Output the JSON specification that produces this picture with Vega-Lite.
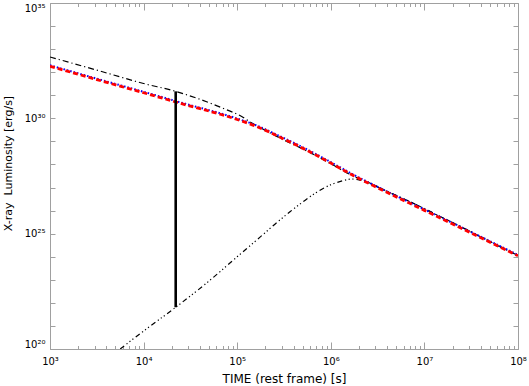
{
  "$schema": "https://vega.github.io/schema/vega-lite/v6.json",
  "width": 468,
  "height": 346,
  "autosize": {"type": "none"},
  "padding": {"left": 50, "top": 3, "right": 11, "bottom": 37},
  "background": "white",
  "config": {
    "view": {"stroke": "#a0a0a0", "strokeWidth": 1},
    "font": "Liberation Sans",
    "axis": {
      "domain": false,
      "grid": false,
      "tickColor": "#a0a0a0",
      "tickWidth": 1,
      "labelColor": "#000000",
      "labelFont": "DejaVu Sans",
      "labelFontSize": 10,
      "titleFont": "DejaVu Sans",
      "titleFontSize": 12,
      "titleFontWeight": "normal",
      "titleColor": "#000000"
    }
  },
  "datasets": {
    "d": [
      {"s": "red", "t": 1000, "L": 1.820e32},
      {"s": "red", "t": 3162, "L": 4.786e31},
      {"s": "red", "t": 10000, "L": 1.288e31},
      {"s": "red", "t": 31623, "L": 3.388e30},
      {"s": "red", "t": 63096, "L": 1.585e30},
      {"s": "red", "t": 100000, "L": 8.913e29},
      {"s": "red", "t": 158489, "L": 4.571e29},
      {"s": "red", "t": 316228, "L": 1.259e29},
      {"s": "red", "t": 630957, "L": 3.162e28},
      {"s": "red", "t": 1000000, "L": 1.148e28},
      {"s": "red", "t": 1778279, "L": 3.162e27},
      {"s": "red", "t": 3162278, "L": 9.772e26},
      {"s": "red", "t": 10000000, "L": 1.023e26},
      {"s": "red", "t": 31622777, "L": 1.072e25},
      {"s": "red", "t": 100000000, "L": 1.096e24},

      {"s": "blue", "t": 1000, "L": 1.995e32},
      {"s": "blue", "t": 3162, "L": 5.248e31},
      {"s": "blue", "t": 10000, "L": 1.413e31},
      {"s": "blue", "t": 31623, "L": 3.715e30},
      {"s": "blue", "t": 63096, "L": 1.738e30},
      {"s": "blue", "t": 100000, "L": 9.772e29},
      {"s": "blue", "t": 158489, "L": 5.012e29},
      {"s": "blue", "t": 316228, "L": 1.380e29},
      {"s": "blue", "t": 630957, "L": 3.467e28},
      {"s": "blue", "t": 1000000, "L": 1.259e28},
      {"s": "blue", "t": 1778279, "L": 3.467e27},
      {"s": "blue", "t": 3162278, "L": 1.072e27},
      {"s": "blue", "t": 10000000, "L": 1.122e26},
      {"s": "blue", "t": 31622777, "L": 1.175e25},
      {"s": "blue", "t": 100000000, "L": 1.202e24},

      {"s": "total", "t": 1000, "L": 4.571e32},
      {"s": "total", "t": 3162, "L": 1.230e32},
      {"s": "total", "t": 10000, "L": 3.236e31},
      {"s": "total", "t": 22029, "L": 1.479e31},
      {"s": "total", "t": 38371, "L": 7.079e30},
      {"s": "total", "t": 74131, "L": 2.512e30},
      {"s": "total", "t": 111686, "L": 1.202e30},
      {"s": "total", "t": 142889, "L": 6.310e29},
      {"s": "total", "t": 154882, "L": 5.248e29},
      {"s": "total", "t": 316228, "L": 1.148e29},
      {"s": "total", "t": 630957, "L": 2.951e28},
      {"s": "total", "t": 1000000, "L": 1.072e28},
      {"s": "total", "t": 1778279, "L": 3.020e27},
      {"s": "total", "t": 2238721, "L": 2.089e27},
      {"s": "total", "t": 4265795, "L": 6.026e26},
      {"s": "total", "t": 7079458, "L": 2.399e26},
      {"s": "total", "t": 13489629, "L": 6.607e25},
      {"s": "total", "t": 25118864, "L": 1.905e25},
      {"s": "total", "t": 50118723, "L": 4.571e24},
      {"s": "total", "t": 100000000, "L": 1.122e24},

      {"s": "comp", "t": 5623, "L": 1.0e20},
      {"s": "comp", "t": 10000, "L": 6.026e20},
      {"s": "comp", "t": 22029, "L": 6.457e21},
      {"s": "comp", "t": 50119, "L": 8.913e22},
      {"s": "comp", "t": 100000, "L": 1.0e24},
      {"s": "comp", "t": 175388, "L": 7.079e24},
      {"s": "comp", "t": 251189, "L": 2.512e25},
      {"s": "comp", "t": 366438, "L": 8.913e25},
      {"s": "comp", "t": 501187, "L": 2.344e26},
      {"s": "comp", "t": 707946, "L": 6.310e26},
      {"s": "comp", "t": 1000000, "L": 1.318e27},
      {"s": "comp", "t": 1361445, "L": 1.995e27},
      {"s": "comp", "t": 1659587, "L": 2.344e27},
      {"s": "comp", "t": 2041738, "L": 2.089e27},
      {"s": "comp", "t": 2511886, "L": 1.585e27},
      {"s": "comp", "t": 4265795, "L": 6.026e26},
      {"s": "comp", "t": 7079458, "L": 2.399e26},
      {"s": "comp", "t": 13489629, "L": 6.607e25},
      {"s": "comp", "t": 25118864, "L": 1.905e25},
      {"s": "comp", "t": 50118723, "L": 4.571e24},
      {"s": "comp", "t": 100000000, "L": 1.122e24}
    ],
    "cut": [
      {"t": 22029, "L": 6.457e21, "L2": 1.479e31}
    ]
  },
  "layer": [
    {
      "data": {"name": "d"},
      "transform": [{"filter": {"field": "s", "equal": "comp"}}],
      "mark": {"type": "line", "color": "#000000", "strokeWidth": 1.2, "strokeDash": [5, 3, 1.2, 2.5, 1.2, 2.5, 1.2, 3], "interpolate": "monotone", "clip": true},
      "encoding": {
        "x": {
          "field": "t", "type": "quantitative",
          "scale": {"type": "log", "domain": [1000, 100000000], "nice": false},
          "axis": {
            "orient": "bottom",
            "title": "TIME (rest frame) [s]",
            "titleBaseline": "alphabetic",
            "titleY": 33,
            "values": [1000, 2000, 3000, 4000, 5000, 6000, 7000, 8000, 9000, 10000, 20000, 30000, 40000, 50000, 60000, 70000, 80000, 90000, 100000, 200000, 300000, 400000, 500000, 600000, 700000, 800000, 900000, 1000000, 2000000, 3000000, 4000000, 5000000, 6000000, 7000000, 8000000, 9000000, 10000000, 20000000, 30000000, 40000000, 50000000, 60000000, 70000000, 80000000, 90000000, 100000000],
            "tickSize": {"condition": {"test": "abs(log(datum.value)/LN10 - round(log(datum.value)/LN10)) < 0.001", "value": -7}, "value": -3.5},
            "labelExpr": "abs(log(datum.value)/LN10 - round(log(datum.value)/LN10)) < 0.001 ? '10' + substring('⁰¹²³⁴⁵⁶⁷⁸⁹', round(log(datum.value)/LN10), round(log(datum.value)/LN10) + 1) : ''",
            "labelPadding": 14,
            "labelFlush": false,
            "labelOverlap": false
          }
        },
        "y": {
          "field": "L", "type": "quantitative",
          "scale": {"type": "log", "domain": [1e20, 1e35], "nice": false},
          "axis": {
            "orient": "left",
            "title": "X-ray\u00a0 Luminosity [erg/s]",
            "titleFontSize": 11,
            "titleX": -37,
            "titleY": 160,
            "values": [1e20, 1e21, 1e22, 1e23, 1e24, 1e25, 1e26, 1e27, 1e28, 1e29, 1e30, 1e31, 1e32, 1e33, 1e34, 1e35],
            "tickSize": -5,
            "labelExpr": "round(log(datum.value)/LN10) % 5 == 0 ? '10' + substring('⁰¹²³⁴⁵⁶⁷⁸⁹', floor(round(log(datum.value)/LN10)/10), floor(round(log(datum.value)/LN10)/10) + 1) + substring('⁰¹²³⁴⁵⁶⁷⁸⁹', round(log(datum.value)/LN10) % 10, round(log(datum.value)/LN10) % 10 + 1) : ''",
            "labelPadding": 10,
            "labelFlush": true,
            "labelOverlap": false
          }
        }
      }
    },
    {
      "data": {"name": "d"},
      "transform": [{"filter": {"field": "s", "equal": "total"}}],
      "mark": {"type": "line", "color": "#000000", "strokeWidth": 1.2, "strokeDash": [6, 3, 1.2, 3], "interpolate": "monotone", "clip": true},
      "encoding": {
        "x": {
          "field": "t", "type": "quantitative",
          "axis": {
            "orient": "top",
            "title": null,
            "labels": false,
            "values": [1000, 2000, 3000, 4000, 5000, 6000, 7000, 8000, 9000, 10000, 20000, 30000, 40000, 50000, 60000, 70000, 80000, 90000, 100000, 200000, 300000, 400000, 500000, 600000, 700000, 800000, 900000, 1000000, 2000000, 3000000, 4000000, 5000000, 6000000, 7000000, 8000000, 9000000, 10000000, 20000000, 30000000, 40000000, 50000000, 60000000, 70000000, 80000000, 90000000, 100000000],
            "tickSize": {"condition": {"test": "abs(log(datum.value)/LN10 - round(log(datum.value)/LN10)) < 0.001", "value": -7}, "value": -3.5}
          }
        },
        "y": {
          "field": "L", "type": "quantitative",
          "axis": {
            "orient": "right",
            "title": null,
            "labels": false,
            "values": [1e20, 1e21, 1e22, 1e23, 1e24, 1e25, 1e26, 1e27, 1e28, 1e29, 1e30, 1e31, 1e32, 1e33, 1e34, 1e35],
            "tickSize": -5
          }
        }
      }
    },
    {
      "data": {"name": "d"},
      "transform": [{"filter": {"field": "s", "equal": "blue"}}],
      "mark": {"type": "line", "color": "#0000ff", "strokeWidth": 2, "strokeDash": [1.5, 2], "interpolate": "monotone", "clip": true},
      "encoding": {
        "x": {"field": "t", "type": "quantitative", "axis": null},
        "y": {"field": "L", "type": "quantitative", "axis": null}
      }
    },
    {
      "data": {"name": "d"},
      "transform": [{"filter": {"field": "s", "equal": "red"}}],
      "mark": {"type": "line", "color": "#ff0000", "strokeWidth": 2.8, "strokeDash": [5, 3], "interpolate": "monotone", "clip": true},
      "encoding": {
        "x": {"field": "t", "type": "quantitative", "axis": null},
        "y": {"field": "L", "type": "quantitative", "axis": null}
      }
    },
    {
      "data": {"name": "cut"},
      "mark": {"type": "rule", "color": "#000000", "strokeWidth": 2.6},
      "encoding": {
        "x": {"field": "t", "type": "quantitative", "axis": null},
        "y": {"field": "L", "type": "quantitative", "axis": null},
        "y2": {"field": "L2"}
      }
    }
  ],
  "resolve": {"axis": {"x": "independent", "y": "independent"}}
}
